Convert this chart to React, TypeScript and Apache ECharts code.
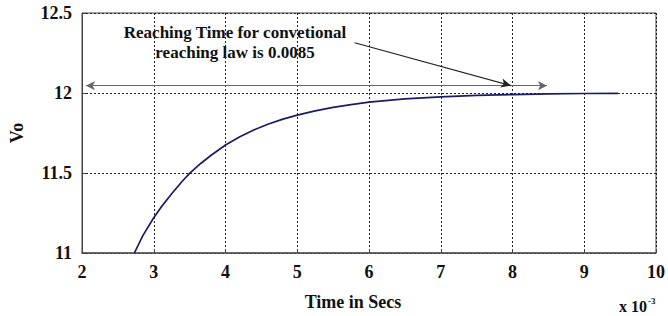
import React, { useEffect, useRef } from "react";
import * as echarts from "echarts";

const timeMs = [2.73, 2.85, 3.0, 3.1, 3.25, 3.4, 3.5, 3.65, 3.8, 4.0, 4.2, 4.4, 4.6, 4.8, 5.0, 5.25, 5.5, 5.75, 6.0, 6.5, 7.0, 7.5, 8.0, 8.5, 9.0, 9.47];
const vo = [11.0, 11.11, 11.22, 11.285, 11.37, 11.45, 11.498, 11.558, 11.611, 11.675, 11.727, 11.77, 11.806, 11.837, 11.862, 11.888, 11.91, 11.927, 11.943, 11.963, 11.976, 11.985, 11.99, 11.994, 11.997, 11.998];
const xTicks = { min: 2, max: 10, interval: 1 };
const yTicks = { min: 11, max: 12.5, interval: 0.5 };
const spanArrow = [[2.055, 12.046], [8.48, 12.046]];
const pointerArrow = [[5.8, 12.314], [7.98, 12.046]];
const noteLines = ["Reaching Time for convetional", "reaching law is 0.0085"];

const FONT = "'Liberation Serif', 'Times New Roman', serif";

export default function App() {
  const ref = useRef<HTMLDivElement>(null);
  useEffect(() => {
    document.body.style.margin = "0";
    const chart = echarts.init(ref.current!, null, { renderer: "svg" });
    chart.setOption({
      animation: false,
      backgroundColor: "#fff",
      grid: {
        left: 79,
        right: 10,
        top: 13,
        bottom: 63,
        show: true,
        borderColor: "#444",
        borderWidth: 1,
        backgroundColor: "transparent",
      },
      xAxis: {
        type: "value",
        min: xTicks.min,
        max: xTicks.max,
        interval: xTicks.interval,
        axisLine: { show: true, lineStyle: { color: "#555", width: 1.5 } },
        axisTick: { show: true, inside: true, length: 4, lineStyle: { color: "#444" } },
        axisLabel: { color: "#111", fontFamily: FONT, fontWeight: "bold", fontSize: 18, margin: 10 },
        splitLine: { show: true, lineStyle: { color: "#222", type: [2, 2], width: 1 } },
      },
      yAxis: {
        type: "value",
        min: yTicks.min,
        max: yTicks.max,
        interval: yTicks.interval,
        name: "Vo",
        nameLocation: "middle",
        nameGap: 56,
        nameTextStyle: { color: "#111", fontFamily: FONT, fontWeight: "bold", fontSize: 18 },
        axisLine: { show: true, lineStyle: { color: "#444", width: 1 } },
        axisTick: { show: true, inside: true, length: 4, lineStyle: { color: "#444" } },
        axisLabel: { color: "#111", fontFamily: FONT, fontWeight: "bold", fontSize: 18, margin: 10 },
        splitLine: { show: true, lineStyle: { color: "#222", type: [2, 2], width: 1 } },
      },
      series: [
        {
          type: "line",
          data: timeMs.map((t, i) => [t, vo[i]]),
          showSymbol: false,
          smooth: false,
          lineStyle: { color: "#1b1b66", width: 1.7, join: "round" },
          markLine: {
            silent: true,
            label: { show: false },
            data: [
              [
                { coord: spanArrow[0], symbol: "arrow", symbolSize: [7, 9], lineStyle: { color: "#666", width: 1.2, type: "solid" } },
                { coord: spanArrow[1], symbol: "arrow", symbolSize: [7, 9] },
              ],
              [
                { coord: pointerArrow[0], symbol: "none", lineStyle: { color: "#222", width: 1.2, type: "solid" } },
                { coord: pointerArrow[1], symbol: "arrow", symbolSize: [7, 10] },
              ],
            ],
          },
        },
      ],
      graphic: [
        {
          type: "text",
          x: 235,
          y: 22,
          style: {
            text: noteLines.join("\n"),
            align: "center",
            verticalAlign: "top",
            fill: "#111",
            font: `bold 17px ${FONT}`,
            lineHeight: 20,
          },
        },
        {
          type: "text",
          x: 353,
          y: 302,
          style: {
            text: "Time in Secs",
            align: "center",
            verticalAlign: "middle",
            fill: "#111",
            font: `bold 18px ${FONT}`,
          },
        },
        {
          type: "text",
          x: 619,
          y: 296,
          style: {
            text: "{a|x 10}{b|-3}",
            rich: {
              a: { font: `bold 16px ${FONT}`, fill: "#111", verticalAlign: "bottom", lineHeight: 18 },
              b: { font: `bold 9px ${FONT}`, fill: "#111", verticalAlign: "top", lineHeight: 18, padding: [0, 0, 10, 1] },
            },
          },
        },
      ],
    });
    return () => chart.dispose();
  }, []);
  return <div ref={ref} style={{ width: 668, height: 316 }} />;
}
